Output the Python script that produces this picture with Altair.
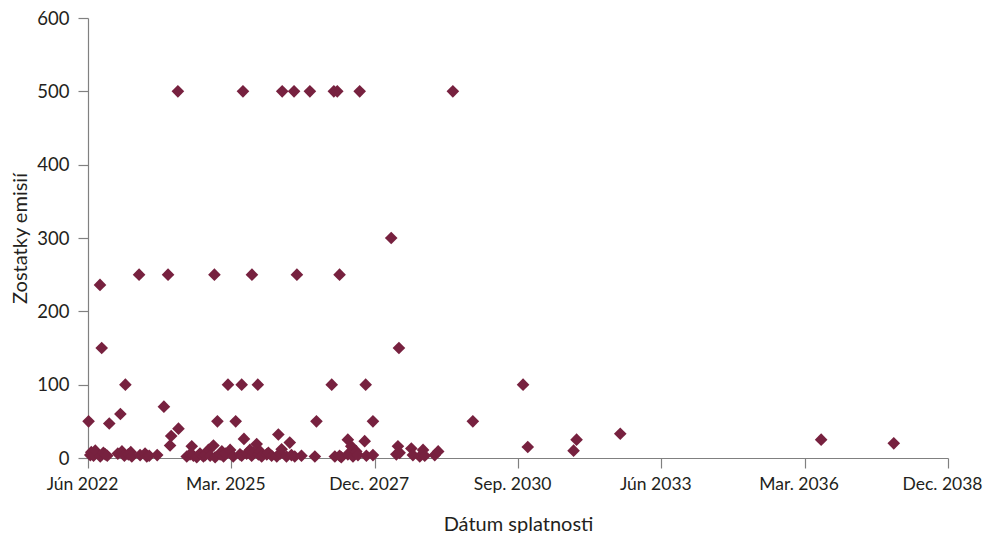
import altair as alt
import pandas as pd

# Maturity dates (Dátum splatnosti) and outstanding issue amounts (Zostatky emisií)
dates = [
    "2022-06-05", "2022-06-17", "2022-06-24", "2022-07-10", "2022-07-22", "2022-08-24",
    "2022-08-26", "2022-09-05", "2022-09-17", "2022-09-30", "2022-10-14", "2022-10-28",
    "2022-12-27", "2023-01-14", "2023-01-25", "2023-02-11", "2023-02-18", "2023-03-11",
    "2023-03-28", "2023-04-04", "2023-05-25", "2023-06-01", "2023-07-06", "2023-07-18",
    "2023-08-04", "2023-09-29",
    "2023-11-15", "2023-12-14", "2023-12-28", "2024-01-05", "2024-02-21", "2024-02-25",
    "2024-04-23", "2024-05-16", "2024-05-28", "2024-06-09", "2024-07-02", "2024-07-25",
    "2024-08-18", "2024-08-30", "2024-09-22", "2024-10-04", "2024-10-27", "2024-11-03",
    "2024-11-08", "2024-11-24", "2024-12-13", "2024-12-25", "2025-01-06", "2025-01-18",
    "2025-02-06", "2025-02-21", "2025-03-15", "2025-04-01", "2025-05-01", "2025-05-13",
    "2025-05-13", "2025-05-22", "2025-05-29", "2025-06-17", "2025-07-10", "2025-07-22",
    "2025-07-24", "2025-08-02", "2025-08-26", "2025-09-03", "2025-09-07", "2025-09-19",
    "2025-09-30", "2025-11-05", "2025-11-16", "2025-12-09", "2026-01-14", "2026-01-25",
    "2026-02-06", "2026-02-17", "2026-02-21", "2026-03-23", "2026-04-15", "2026-04-27",
    "2026-05-15", "2026-05-20", "2026-06-04", "2026-07-06",
    "2026-09-03", "2026-10-08", "2026-10-19", "2027-02-03", "2027-02-18", "2027-02-25",
    "2027-03-14", "2027-03-30", "2027-03-30", "2027-04-11", "2027-05-27", "2027-05-27",
    "2027-06-20", "2027-07-02", "2027-07-25", "2027-08-06", "2027-08-18", "2027-09-22",
    "2027-09-29", "2027-10-04", "2027-11-19", "2027-11-19",
    "2028-03-26", "2028-05-01", "2028-05-12", "2028-05-19", "2028-05-24", "2028-08-14",
    "2028-08-25", "2028-10-12", "2028-11-04", "2028-11-16", "2029-01-25", "2029-02-18",
    "2029-06-01", "2029-10-19", "2030-10-06", "2030-11-08", "2031-09-25", "2031-10-16",
    "2032-08-17", "2036-06-25", "2037-11-16",
]
amounts = [
    50, 4, 8, 3, 10, 236,
    2, 150, 7, 5, 3, 47,
    6, 60, 9, 3, 100, 5,
    8, 2, 250, 4, 6, 2,
    3, 4,
    70, 250, 17, 30, 500, 40,
    2, 5, 16, 3, 1, 6,
    2, 4, 11, 3, 17, 250,
    1, 50, 5, 9, 2, 6,
    100, 11, 2, 50, 5, 100,
    3, 500, 26, 6, 11, 3,
    250, 7, 19, 100, 5, 9,
    2, 5, 7, 3, 2, 32,
    6, 12, 500, 2, 21, 4,
    500, 2, 250, 3,
    500, 2, 50, 100, 500, 2,
    500, 250, 3, 1, 25, 5,
    16, 2, 9, 4, 500, 23,
    100, 3, 50, 4,
    300, 5, 16, 150, 7, 13,
    4, 2, 11, 3, 4, 9,
    500, 50, 100, 15, 10, 25,
    33, 25, 20,
]

tick_dates = ["2022-06-01", "2025-03-01", "2027-12-01", "2030-09-01",
              "2033-06-01", "2036-03-01", "2038-12-01"]
month_names = ["Jan.", "Feb.", "Mar.", "Apr.", "Máj", "Jún", "Júl", "Aug.",
               "Sep.", "Okt.", "Nov.", "Dec."]
y_ticks = [0, 100, 200, 300, 400, 500, 600]

df = pd.DataFrame({"datum": dates, "zostatok": amounts})

month_js = "[" + ",".join("'" + m + "'" for m in month_names) + "]"
label_expr = month_js + "[utcmonth(datum.value)] + ' ' + utcyear(datum.value)"

FONT = "Lato"
AXIS_COLOR = "#808080"
TEXT_COLOR = "#231f20"

chart = alt.Chart(df).mark_point(
    shape="diamond", filled=True, size=160, opacity=1, color="#77213F"
).encode(
    x=alt.X(
        "datum:T",
        scale=alt.Scale(type="utc", domain=[tick_dates[0], tick_dates[-1]]),
        axis=alt.Axis(
            values=tick_dates,
            labelExpr=label_expr,
            title="Dátum splatnosti",
            grid=False,
            tickSize=10,
            labelPadding=7,
            labelFlush=False,
            labelOffset=-6,
            labelFontSize=17.5,
            titleX=430,
            titleY=66,
            titleBaseline="middle",
            titleAlign="center",
        ),
    ),
    y=alt.Y(
        "zostatok:Q",
        scale=alt.Scale(domain=[0, 600], nice=False),
        axis=alt.Axis(
            values=y_ticks,
            title="Zostatky emisií",
            grid=False,
            tickSize=10,
            labelPadding=9,
            labelFlush=False,
            titleX=-68,
            titleY=220,
            titleAngle=-90,
            titleAlign="center",
            titleBaseline="middle",
        ),
    ),
).properties(
    width=860,
    height=440,
    autosize=alt.AutoSizeParams(type="none"),
    padding={"left": 80, "top": 10, "right": 36, "bottom": 75},
).configure_view(
    stroke=None
).configure_axis(
    domainColor=AXIS_COLOR,
    tickColor=AXIS_COLOR,
    domainWidth=1.2,
    tickWidth=1.2,
    labelFont=FONT,
    titleFont=FONT,
    labelFontSize=18.5,
    titleFontSize=20,
    labelColor=TEXT_COLOR,
    titleColor=TEXT_COLOR,
    titleFontWeight="normal",
)

chart.save("out.html", embed_options={"renderer": "svg", "actions": False})
